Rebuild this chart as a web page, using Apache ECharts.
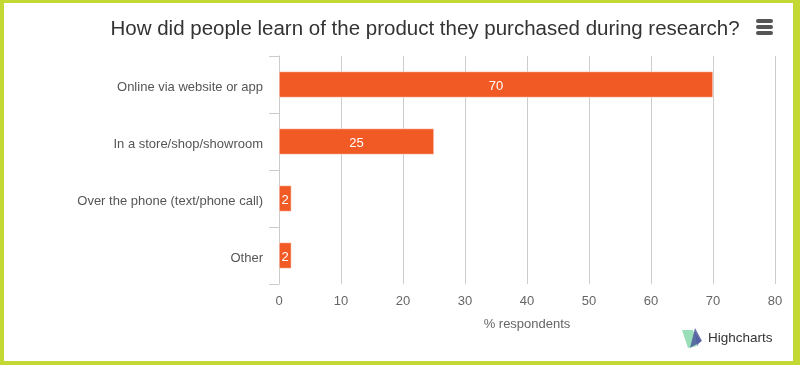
<!DOCTYPE html>
<html><head><meta charset="utf-8">
<script src="https://cdn.jsdelivr.net/npm/echarts@6/dist/echarts.min.js"></script>
<style>
html,body{margin:0;padding:0;background:#c3d832;width:800px;height:365px;overflow:hidden}
#c{position:absolute;left:4px;top:3px;width:789px;height:358px;background:#fff}
</style></head><body><div id="c"></div>
<script>
const titleText = "How did people learn of the product they purchased during research?";
const categories = ["Online via website or app", "In a store/shop/showroom", "Over the phone (text/phone call)", "Other"];
const values = [70, 25, 2, 2];
const xTicks = [0, 10, 20, 30, 40, 50, 60, 70, 80];
const axisName = "% respondents";
const creditText = "Highcharts";

const chart = echarts.init(document.getElementById('c'), null, {renderer: 'canvas'});
const font = "'Liberation Sans', Arial, sans-serif";
chart.setOption({
  animation: false,
  title: {
    text: titleText, left: 416, top: 11, textAlign: 'center',
    textStyle: {fontFamily: font, fontSize: 20.5, fontWeight: 'normal', color: '#333'}
  },
  grid: {left: 275, right: 18, top: 53, bottom: 77},
  xAxis: {
    type: 'value', min: xTicks[0], max: xTicks[xTicks.length - 1], interval: 10,
    axisLine: {show: false}, axisTick: {show: false},
    splitLine: {show: true, lineStyle: {color: '#cccccc', width: 1}},
    axisLabel: {color: '#666', fontFamily: font, fontSize: 13, margin: 11},
    name: axisName, nameLocation: 'middle', nameGap: 34,
    nameTextStyle: {color: '#666', fontFamily: font, fontSize: 13}
  },
  yAxis: {
    type: 'category', data: categories, inverse: true,
    axisLine: {show: true, lineStyle: {color: '#cccccc'}},
    axisTick: {show: true, length: 10, lineStyle: {color: '#cccccc'}},
    axisLabel: {
      margin: 16, formatter: v => '{a|' + v + '}',
      rich: {a: {color: '#555', fontFamily: font, fontSize: 13, padding: [6, 0, 0, 0]}}
    }
  },
  series: [{
    type: 'bar', data: values, barWidth: 26,
    itemStyle: {color: '#f25a25', borderColor: '#ffffff', borderWidth: 0.5},
    label: {show: true, position: 'inside', offset: [0, 2], color: '#fff', fontFamily: font, fontSize: 13}
  }],
  graphic: [
    {type: 'rect', shape: {x: 752, y: 16, width: 17, height: 4, r: 2}, style: {fill: '#555'}},
    {type: 'rect', shape: {x: 752, y: 22, width: 17, height: 4, r: 2}, style: {fill: '#555'}},
    {type: 'rect', shape: {x: 752, y: 28, width: 17, height: 4, r: 2}, style: {fill: '#555'}},
    {type: 'polygon', shape: {points: [[678, 327], [689, 327], [693, 343], [684, 345]]}, style: {fill: '#7fd6a6', opacity: 0.8}},
    {type: 'polygon', shape: {points: [[690, 328], [697, 338], [693, 343]]}, style: {fill: '#5a6bb0', opacity: 0.8}},
    {type: 'polygon', shape: {points: [[691, 325], [698, 338], [686, 345]]}, style: {fill: '#4d5a9c', opacity: 0.85}},
    {type: 'text', x: 704, y: 328, style: {text: creditText, fill: '#333', font: "13.5px " + font}}
  ]
});
</script></body></html>
